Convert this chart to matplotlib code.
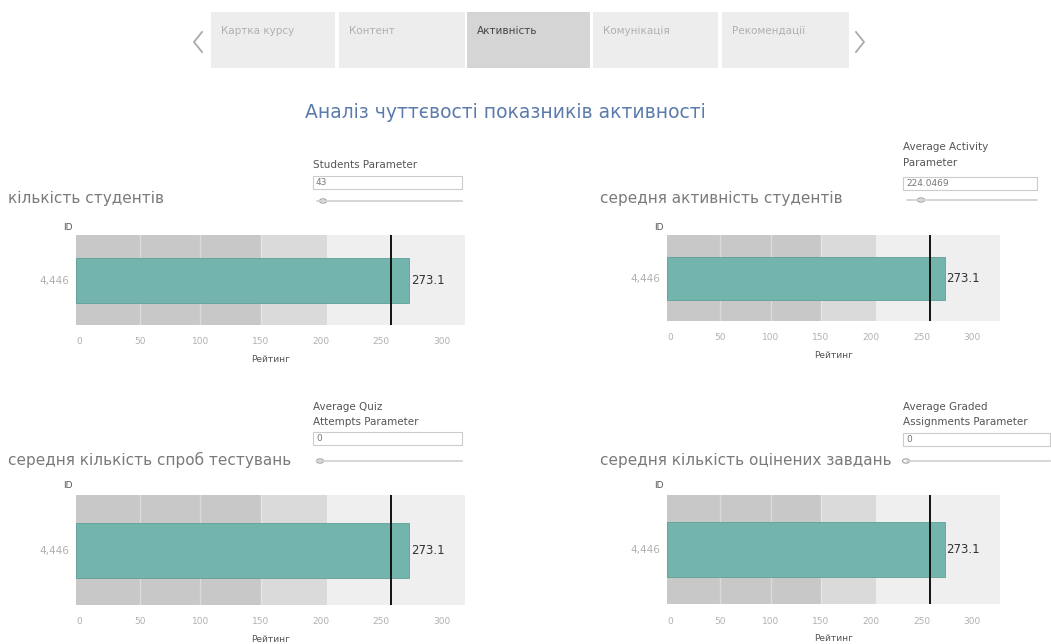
import matplotlib.pyplot as plt
from matplotlib.patches import Rectangle, Circle
from matplotlib.lines import Line2D

plt.rcParams['font.family'] = ['DejaVu Sans']

W, H = 1051, 644

# дані
tab_names = ['Картка курсу', 'Контент', 'Активність', 'Комунікація', 'Рекомендації']
active_tab = 2
dashboard_title = 'Аналіз чуттєвості показників активності'
panel_titles = ['кількість студентів', 'середня активність студентів',
                'середня кількість спроб тестувань', 'середня кількість оцінених завдань']
param_labels = ['Students Parameter', 'Average Activity\nParameter',
                'Average Quiz\nAttempts Parameter', 'Average Graded\nAssignments Parameter']
param_values = ['43', '224.0469', '0', '0']
row_ids = ['4,446', '4,446', '4,446', '4,446']
ratings = [273.1, 273.1, 273.1, 273.1]
reference = [258, 258, 258, 258]
band_edges = [150, 205]
x_ticks = [0, 50, 100, 150, 200, 250, 300]
x_label = 'Рейтинг'

fig = plt.figure(figsize=(W / 100, H / 100), dpi=100)
fig.patch.set_facecolor('white')


def fx(x):
    return x / W


def fy(y):
    return 1 - y / H


def ftext(x, y, s, **kw):
    fig.text(fx(x), fy(y), s, **kw)


def frect(x0, y0, x1, y1, **kw):
    fig.add_artist(Rectangle((fx(x0), fy(y1)), fx(x1) - fx(x0), fy(y0) - fy(y1),
                             transform=fig.transFigure, **kw))


# вкладки навігації
tab_x = [(211, 335), (339, 465), (467, 590), (593, 718), (722, 849)]
for i, (name, (x0, x1)) in enumerate(zip(tab_names, tab_x)):
    active = i == active_tab
    frect(x0, 12, x1, 68, facecolor='#d5d5d5' if active else '#ededed', edgecolor='none')
    ftext(x0 + 10, 31, name, fontsize=7.5, va='center', ha='left',
          color='#444444' if active else '#b0b0b0')

# стрілки
for xs in ([202, 194, 202], [856, 864, 856]):
    fig.add_artist(Line2D([fx(v) for v in xs], [fy(32), fy(42), fy(52)],
                          transform=fig.transFigure, color='#aaaaaa', lw=1.3))

ftext(505, 112, dashboard_title, fontsize=13.5, ha='center', va='center', color='#5a7bab')

# розміщення панелей: (лівий, верх, правий, низ) смуги, межа осі x
panels = [
    dict(box=(76, 235, 465, 325), xmax=319.5, title=(8, 198), label_y=227,
         param=(313, [165], 176, 201, 323, 462)),
    dict(box=(667, 235, 1000, 321), xmax=327.7, title=(600, 198), label_y=227,
         param=(903, [147, 163], 177, 200, 921, 1037)),
    dict(box=(76, 495, 465, 605), xmax=319.5, title=(8, 460), label_y=485,
         param=(313, [407, 422], 432, 461, 320, 462)),
    dict(box=(667, 495, 1000, 604), xmax=327.7, title=(600, 460), label_y=485,
         param=(903, [407, 422], 433, 461, 906, 1050)),
]

for i, p in enumerate(panels):
    x0, y0, x1, y1 = p['box']
    ax = fig.add_axes([fx(x0), fy(y1), fx(x1) - fx(x0), fy(y0) - fy(y1)])
    xmin, xmax = -3, p['xmax']
    ax.set_xlim(xmin, xmax)
    ax.set_ylim(-0.5, 0.5)

    # смуги тла
    edges = [xmin] + band_edges + [xmax]
    for (a, b), c in zip(zip(edges[:-1], edges[1:]), ['#c8c8c8', '#dadada', '#efefef']):
        ax.axvspan(a, b, color=c, lw=0, zorder=0)
    for t in x_ticks[1:4]:
        ax.axvline(t, color='white', lw=1, alpha=0.35, zorder=1)

    ax.barh(0, ratings[i] - xmin, left=xmin, height=0.5, color='#73b5ad',
            edgecolor='#5f9f97', lw=0.6, zorder=2)
    ax.axvline(reference[i], color='#111111', lw=1.4, zorder=3)
    ax.text(ratings[i] + 1.5, 0, f'{ratings[i]:.1f}', fontsize=8.5, va='center',
            ha='left', color='#333333', zorder=4)

    ax.set_xticks(x_ticks)
    ax.set_xticklabels([str(t) for t in x_ticks], fontsize=6.5, color='#b0b0b0')
    ax.set_yticks([0])
    ax.set_yticklabels([row_ids[i]], fontsize=7.5, color='#b0b0b0')
    ax.tick_params(axis='x', length=0, pad=9)
    ax.tick_params(axis='y', length=0, pad=5)
    for s in ax.spines.values():
        s.set_visible(False)
    ax.set_xlabel(x_label, fontsize=6.5, color='#555555', labelpad=6)

    tx, ty = p['title']
    ftext(tx, ty, panel_titles[i], fontsize=11, va='center', ha='left', color='#7a7a7a')
    ftext(x0 - 13, p['label_y'], 'ID', fontsize=6.5, va='center', ha='left', color='#555555')

    # параметр: підпис, поле вводу, повзунок
    px, ly, by, sy, cx, pr = p['param']
    for line, yy in zip(param_labels[i].split('\n'), ly):
        ftext(px, yy, line, fontsize=7.5, va='center', ha='left', color='#555555')
    frect(px, by, pr, by + 13, facecolor='white', edgecolor='#cccccc', lw=0.8)
    ftext(px + 3, by + 6.5, param_values[i], fontsize=6.5, va='center', ha='left',
          color='#777777')
    fig.add_artist(Line2D([fx(px + 4), fx(pr)], [fy(sy), fy(sy)],
                          transform=fig.transFigure, color='#d0d0d0', lw=1.2))
    fig.add_artist(Circle((fx(cx), fy(sy)), 3.5 / W, transform=fig.transFigure,
                          facecolor='white', edgecolor='#aaaaaa', lw=0.9))

fig.savefig('out.png', dpi=100)
